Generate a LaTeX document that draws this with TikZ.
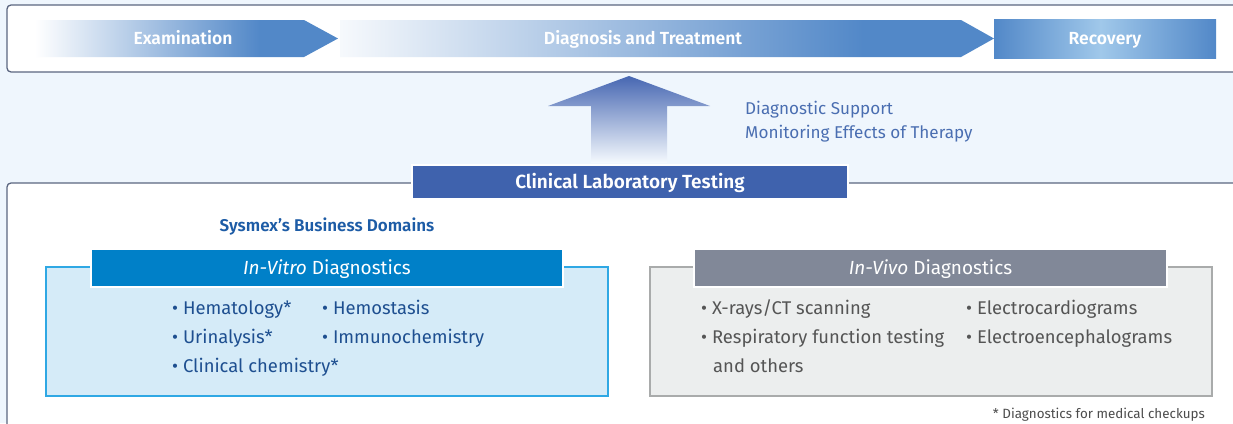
\documentclass[tikz,border=0pt]{standalone}
\usepackage{fontspec}
\setmainfont{Fira Sans}[BoldFont={Fira Sans SemiBold}]
\usetikzlibrary{shadows}
\definecolor{bgblue}{HTML}{EFF6FD}
\definecolor{framec}{HTML}{5B6680}
\definecolor{arrowblue}{HTML}{5288C8}
\definecolor{lightrec}{HTML}{A0C8EA}
\definecolor{clt}{HTML}{3F62AD}
\definecolor{uparrowtop}{HTML}{4767B2}
\definecolor{supportc}{HTML}{4A6EB1}
\definecolor{sysmexc}{HTML}{1D5CA6}
\definecolor{vitrohead}{HTML}{0080C8}
\definecolor{vitrofill}{HTML}{D5EBF8}
\definecolor{vitroline}{HTML}{2FA8E4}
\definecolor{vitrotext}{HTML}{1E4F90}
\definecolor{vivohead}{HTML}{818898}
\definecolor{vivofill}{HTML}{ECEEEE}
\definecolor{vivoline}{HTML}{A9ABAB}
\definecolor{vivotext}{HTML}{555555}
\pgfdeclarehorizontalshading{examshade}{100bp}{color(0bp)=(white); color(25bp)=(white); color(62bp)=(arrowblue); color(100bp)=(arrowblue)}
\pgfdeclarehorizontalshading{diagshade}{100bp}{color(0bp)=(white); color(25bp)=(white!95!arrowblue); color(65bp)=(arrowblue); color(100bp)=(arrowblue)}
\pgfdeclarehorizontalshading{recshade}{100bp}{color(0bp)=(arrowblue); color(25bp)=(arrowblue); color(49bp)=(lightrec); color(75bp)=(arrowblue); color(100bp)=(arrowblue)}
\tikzset{
  framebox/.style={draw=framec, line width=1.3pt, rounded corners=4pt},
  steplabel/.style={anchor=base, text=white, font=\fontsize{17.5}{20}\selectfont\bfseries, inner sep=0pt},
  headbox/.style={draw=white, line width=1.6pt, minimum height=38pt, inner sep=0pt,
     drop shadow={opacity=0.35, shadow xshift=0pt, shadow yshift=-1pt, fill=black!40}},
  headtext/.style={anchor=base, inner sep=0pt, text=white, font=\fontsize{19}{22}\selectfont},
  vitroitem/.style={anchor=base west, inner sep=0pt, text=vitrotext, font=\fontsize{18.4}{22}\selectfont},
  vivoitem/.style={anchor=base west, inner sep=0pt, text=vivotext, font=\fontsize{18.4}{22}\selectfont},
  supitem/.style={anchor=base west, inner sep=0pt, text=supportc, font=\fontsize{17.1}{20}\selectfont},
}
\begin{document}
\begin{tikzpicture}[x=1pt,y=-1pt]
\useasboundingbox (0,0) rectangle (1233,423);
\clip (0,0) rectangle (1233,423);
\fill[bgblue] (0,0) rectangle (1233,423);
% top frame
\draw[framebox, fill=white] (1240,5) -- (7,5) -- (7,72) -- (1240,72);
% process arrows
\shade[shading=examshade] (35,20) -- (304,20) -- (338,38.5) -- (304,57) -- (35,57) -- cycle;
\shade[shading=diagshade] (340,20) -- (961,20) -- (994,38.5) -- (961,57) -- (340,57) -- cycle;
\shade[shading=recshade] (994,19) rectangle (1216,58);
\node[steplabel] (exam) at (183,44) {Examination};
\node[steplabel] (diag) at (643,44) {Diagnosis and Treatment};
\node[steplabel] (rec) at (1105,44) {Recovery};
% bottom frame
\path[fill=white, rounded corners=4pt] (1240,183) -- (7,183) -- (7,440) -- (1240,440) -- cycle;
\draw[framebox] (1240,183) -- (7,183) -- (7,440);
% up arrow
\shade[top color=uparrowtop, bottom color=bgblue!60!white]
  (629,76) -- (710,106) -- (667,106) -- (667,163) -- (591,163) -- (591,106) -- (548,106) -- cycle;
\node[supitem] (sup1) at (745,114) {Diagnostic Support};
\node[supitem] (sup2) at (745,138) {Monitoring Effects of Therapy};
% clinical lab testing
\node[fill=clt, draw=white, line width=1.3pt, minimum width=436pt, minimum height=34pt, inner sep=0pt,
  drop shadow={opacity=0.3, shadow xshift=0pt, shadow yshift=-1.2pt, fill=black!40}] (clt) at (630,182) {};
\node[anchor=base, inner sep=0pt, text=white, font=\fontsize{19}{22}\selectfont\bfseries] (cltt) at (630,188.5) {Clinical Laboratory Testing};
\node[anchor=base, text=sysmexc, font=\fontsize{17}{20}\selectfont\bfseries, inner sep=0pt] (sysmex) at (327,231.5) {Sysmex’s Business Domains};
% in-vitro
\draw[draw=vitroline, line width=1.3pt, fill=vitrofill] (46,267) rectangle (608,396);
\node[headbox, fill=vitrohead, minimum width=472pt] (vitro) at (327,268) {};
\node[headtext] (vitrot) at (327,274.5) {\textit{In-Vitro} Diagnostics};
\node[vitroitem] (hema) at (172,314) {• Hematology*};
\node[vitroitem] (hemo) at (322,314) {• Hemostasis};
\node[vitroitem] (urin) at (172,343) {• Urinalysis*};
\node[vitroitem] (immu) at (322,343) {• Immunochemistry};
\node[vitroitem] (chem) at (172,372) {• Clinical chemistry*};
% in-vivo
\draw[draw=vivoline, line width=1.3pt, fill=vivofill] (650,267) rectangle (1212,396);
\node[headbox, fill=vivohead, minimum width=473pt] (vivo) at (930.5,268) {};
\node[headtext] (vivot) at (930.5,274.5) {\textit{In-Vivo} Diagnostics};
\node[vivoitem] (xray) at (701,314) {• X-rays/CT scanning};
\node[vivoitem] (resp) at (701,343) {• Respiratory function testing};
\node[vivoitem] (othr) at (713,372) {and others};
\node[vivoitem] (ecg) at (966,314) {• Electrocardiograms};
\node[vivoitem] (eeg) at (966,343) {• Electroencephalograms};
\node[anchor=base east, inner sep=0pt, text=vivotext!90!black, font=\fontsize{13.4}{15}\selectfont] (foot) at (1205,418) {* Diagnostics for medical checkups};
\end{tikzpicture}
\end{document}
